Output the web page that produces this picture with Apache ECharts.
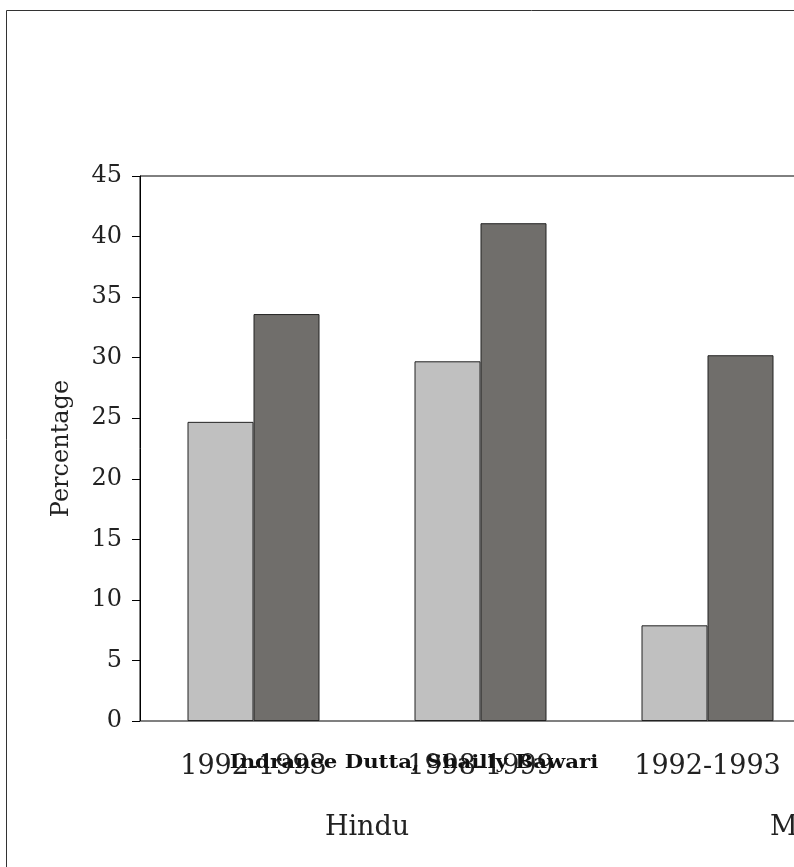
<!DOCTYPE html>
<html>
<head>
<meta charset="utf-8">
<script src="https://cdn.jsdelivr.net/npm/echarts@6/dist/echarts.min.js"></script>
<style>
html,body{margin:0;padding:0;overflow:hidden;background:#fff;}
#chart{width:1070px;height:867px;}
</style>
</head>
<body>
<div id="chart"></div>
<script>
const categories = ["1992-1993", "1998-1999", "1992-1993", "1998-1999"];
const groups = ["Hindu", "Muslim"];
const seriesLight = [24.7, 29.7, 7.9, null];
const seriesDark = [33.6, 41.1, 30.2, null];
const yTicks = { min: 0, max: 45, interval: 5 };
const authorText = "Indranee Dutta, Shailly Bawari";

const font = "DejaVu Serif";
const chart = echarts.init(document.getElementById('chart'), null, { renderer: 'canvas' });
chart.setOption({
  animation: false,
  backgroundColor: '#ffffff',
  grid: {
    left: 140, top: 176, width: 908, height: 545,
    show: true, borderColor: '#000', borderWidth: 1, backgroundColor: 'transparent'
  },
  xAxis: [
    {
      type: 'category', data: categories, position: 'bottom',
      axisLine: { show: true, lineStyle: { color: '#808080', width: 1 } },
      axisTick: { show: false },
      axisLabel: { color: '#222', fontFamily: font, fontSize: 27, margin: 32, interval: 0 }
    },
    {
      type: 'category', data: groups, position: 'bottom', gridIndex: 0,
      axisLine: { show: false }, axisTick: { show: false },
      axisLabel: { color: '#222', fontFamily: font, fontSize: 27, margin: 93, interval: 0 }
    }
  ],
  yAxis: {
    type: 'value', min: yTicks.min, max: yTicks.max, interval: yTicks.interval,
    name: 'Percentage', nameLocation: 'middle', nameGap: 66, nameRotate: 90,
    nameTextStyle: { color: '#222', fontFamily: font, fontSize: 24 },
    axisLine: { show: true, lineStyle: { color: '#000', width: 1 } },
    axisTick: { show: true, length: 8, lineStyle: { color: '#000' } },
    splitLine: { show: false },
    axisLabel: { color: '#222', fontFamily: font, fontSize: 24, margin: 18 }
  },
  series: [
    {
      type: 'bar', data: seriesLight, xAxisIndex: 0, barWidth: 66, barGap: '0%',
      itemStyle: { color: '#c0c0c0', borderColor: '#222', borderWidth: 1 }
    },
    {
      type: 'bar', data: seriesDark, xAxisIndex: 0, barWidth: 66, barGap: '0%',
      itemStyle: { color: '#706e6b', borderColor: '#222', borderWidth: 1 }
    }
  ],
  graphic: [
    {
      type: 'rect', x: 0, y: 0, z: 100,
      shape: { x: 6.5, y: 10.5, width: 1050, height: 900 },
      style: { fill: 'none', stroke: '#333', lineWidth: 1 }
    },
    {
      type: 'text', x: 414, y: 763, z: 100, scaleX: 1.18,
      style: {
        text: authorText, fill: '#111', font: 'bold 18px "DejaVu Serif"',
        textAlign: 'center', textVerticalAlign: 'middle'
      }
    }
  ]
});
</script>
</body>
</html>
